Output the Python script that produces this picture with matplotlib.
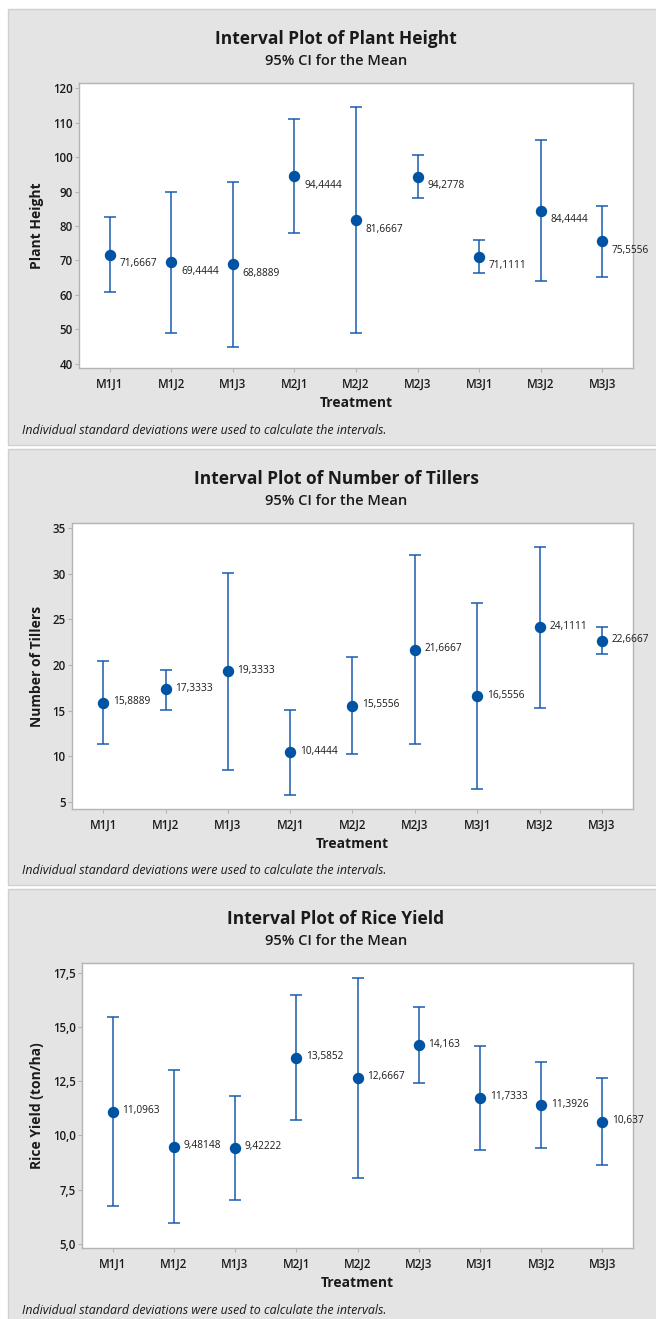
import matplotlib
matplotlib.use("Agg")
import matplotlib.pyplot as plt
from matplotlib.patches import Rectangle
from matplotlib.ticker import FuncFormatter

# ---------- data ----------
treatments = ["M1J1", "M1J2", "M1J3", "M2J1", "M2J2", "M2J3", "M3J1", "M3J2", "M3J3"]

height_mean = [71.6667, 69.4444, 68.8889, 94.4444, 81.6667, 94.2778, 71.1111, 84.4444, 75.5556]
height_lo   = [60.8, 49.0, 44.9, 77.9, 48.9, 88.1, 66.3, 64.0, 65.2]
height_hi   = [82.6, 89.9, 92.9, 111.0, 114.4, 100.5, 75.9, 104.9, 85.9]

tillers_mean = [15.8889, 17.3333, 19.3333, 10.4444, 15.5556, 21.6667, 16.5556, 24.1111, 22.6667]
tillers_lo   = [11.3, 15.1, 8.5, 5.8, 10.25, 11.3, 6.4, 15.25, 21.2]
tillers_hi   = [20.45, 19.5, 30.1, 15.05, 20.85, 32.05, 26.75, 32.95, 24.15]

yield_mean = [11.0963, 9.48148, 9.42222, 13.5852, 12.6667, 14.163, 11.7333, 11.3926, 10.637]
yield_lo   = [6.72, 5.95, 7.0, 10.71, 8.05, 12.42, 9.33, 9.41, 8.65]
yield_hi   = [15.47, 13.02, 11.84, 16.46, 17.29, 15.91, 14.14, 13.37, 12.63]

height_ticks  = [40, 50, 60, 70, 80, 90, 100, 110, 120]
tillers_ticks = [5, 10, 15, 20, 25, 30, 35]
yield_ticks   = [5.0, 7.5, 10.0, 12.5, 15.0, 17.5]

# ---------- style ----------
W, H = 656, 1319
DOT = "#0052A3"; BAR = "#1A5CAD"; PANEL = "#E4E4E4"; EDGE = "#D0D0D0"
FRAME = "#B4B4B4"; TXT = "#1A1A1A"
plt.rcParams["font.family"] = ["Open Sans", "DejaVu Sans"]

fig = plt.figure(figsize=(W / 100, H / 100), dpi=100)
fig.patch.set_facecolor("white")

def fx(x): return x / W
def fy(y): return 1 - y / H

def comma(v, pos=None, fmt="%g"):
    return (fmt % v).replace(".", ",")

# panel specs: (box top, box bottom, axes l, r, t, b, ylim, ticks, tickfmt,
#               means, lo, hi, title, ylabel, label dy)
panels = [
    (9, 445, 79, 633, 83, 368, (38.8, 121.5), height_ticks, "%g",
     height_mean, height_lo, height_hi, "Plant Height", "Plant Height", 9),
    (449, 885, 72, 633, 523, 809, (4.23, 35.55), tillers_ticks, "%g",
     tillers_mean, tillers_lo, tillers_hi, "Number of Tillers", "Number of Tillers", -1),
    (889, 1325, 82, 633, 963, 1248, (4.8, 17.96), yield_ticks, "%.1f",
     yield_mean, yield_lo, yield_hi, "Rice Yield", "Rice Yield (ton/ha)", -1),
]

x = list(range(1, len(treatments) + 1))

for (bt, bb, l, r, t, b, ylim, ticks, tfmt, mean, lo, hi,
     name, ylab, dy) in panels:
    # grey Minitab panel
    fig.patches.append(Rectangle((fx(8), fy(bb)), fx(W - 7), (bb - bt) / H,
                                 transform=fig.transFigure, facecolor=PANEL,
                                 edgecolor=EDGE, linewidth=1.0, zorder=-5))

    ax = fig.add_axes([fx(l), fy(b), (r - l) / W, (b - t) / H])
    ax.set_zorder(2)
    ax.set_facecolor("white")
    err = [[m - a for m, a in zip(mean, lo)], [c - m for m, c in zip(mean, hi)]]
    ax.errorbar(x, mean, yerr=err, fmt="none", ecolor=BAR, elinewidth=1.1,
                capsize=4.5, capthick=1.1, zorder=2)
    ax.plot(x, mean, "o", color=DOT, markersize=7.2, zorder=3)
    for xi, m in zip(x, mean):
        ax.annotate(comma(m, fmt="%.6g"), (xi, m), xytext=(7, -dy * 0.72),
                    textcoords="offset points", ha="left", va="center",
                    fontsize=7.3, color=TXT)

    ax.set_xlim(0.5, 9.5)
    ax.set_ylim(*ylim)
    ax.set_xticks(x)
    ax.set_xticklabels(treatments)
    ax.set_yticks(ticks)
    ax.yaxis.set_major_formatter(FuncFormatter(lambda v, p, f=tfmt: comma(v, fmt=f)))
    for s in ax.spines.values():
        s.set_color(FRAME); s.set_linewidth(1.0)
    ax.tick_params(axis="both", colors=FRAME, labelcolor=TXT, length=3,
                   width=0.8, labelsize=8.3)
    ax.tick_params(axis="x", pad=4)
    ax.tick_params(axis="y", pad=1.5)
    for lab in ax.get_xticklabels() + ax.get_yticklabels():
        lab.set_fontweight("semibold")

    fig.text(fx(336), fy(bt + 30), f"Interval Plot of {name}", ha="center",
             va="center", fontsize=12.5, fontweight="bold", color=TXT)
    fig.text(fx(336), fy(bt + 52), "95% CI for the Mean", ha="center",
             va="center", fontsize=10.5, fontweight="semibold", color=TXT)
    fig.text(fx((l + r) / 2), fy(b + 35), "Treatment", ha="center", va="center",
             fontsize=10, fontweight="bold", color=TXT)
    fig.text(fx(37), fy((t + b) / 2), ylab, ha="center", va="center",
             rotation=90, fontsize=10, fontweight="bold", color=TXT)
    fig.text(fx(22), fy(bt + 422), "Individual standard deviations were used to calculate the intervals.",
             ha="left", va="center", fontsize=8.9, style="italic", color=TXT)

fig.savefig("out.png", dpi=100, facecolor="white")
